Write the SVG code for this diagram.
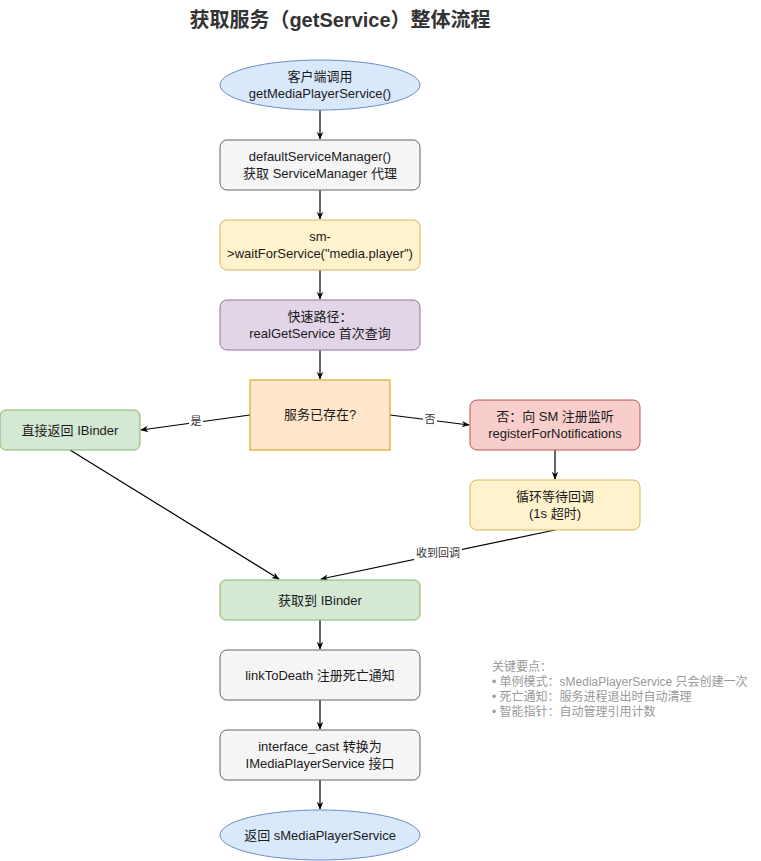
<svg xmlns="http://www.w3.org/2000/svg" width="761" height="861" viewBox="0 0 761 861">
<defs>
<marker id="arr" viewBox="0 0 10 10" refX="9" refY="5" markerWidth="8" markerHeight="8" orient="auto" markerUnits="userSpaceOnUse">
<path d="M0,1 L10,5 L0,9 L3,5 Z" fill="#000"/>
</marker>
<style>
text{font-family:"Liberation Sans","Noto Sans CJK SC",sans-serif;font-size:13px;fill:#1a1a1a;text-anchor:middle}
.title{font-size:20px;font-weight:bold;fill:#333}
.note{font-size:12px;fill:#999;text-anchor:start}
.lbl{font-size:11px;fill:#333}
.blue{fill:#dae8fc;stroke:#6c8ebf}
.gray{fill:#f5f5f5;stroke:#666}
.yel{fill:#fff2cc;stroke:#d6b656}
.pur{fill:#e1d5e7;stroke:#9673a6}
.org{fill:#ffe6cc;stroke:#d79b00}
.grn{fill:#d5e8d4;stroke:#82b366}
.red{fill:#f8cecc;stroke:#b85450}
.e{stroke:#000;stroke-width:1.2;fill:none;marker-end:url(#arr)}
.lb{fill:#fff}
</style>
</defs>
<rect width="761" height="861" fill="#fff"/>
<text class="title" x="340" y="27">获取服务（getService）整体流程</text>
<g id="edges">
<path class="e" d="M320,110 L320,139"/>
<path class="e" d="M320,190 L320,219"/>
<path class="e" d="M320,270 L320,299"/>
<path class="e" d="M320,350 L320,379"/>
<path class="e" d="M250,415 L141,430"/>
<path class="e" d="M390,415 L469,425"/>
<path class="e" d="M555,450 L555,479"/>
<path class="e" d="M70,450 L279,579"/>
<path class="e" d="M555,530 L321,579"/>
<path class="e" d="M320,620 L320,649"/>
<path class="e" d="M320,700 L320,729"/>
<path class="e" d="M320,780 L320,809"/>
<rect class="lb" x="189" y="414" width="14" height="14"/>
<text class="lbl" x="196" y="425">是</text>
<rect class="lb" x="423" y="412" width="14" height="14"/>
<text class="lbl" x="430" y="423">否</text>
<rect class="lb" x="414" y="546" width="48" height="14"/>
<text class="lbl" x="438" y="557">收到回调</text>
</g>
<g id="start"><ellipse class="blue" cx="320" cy="85" rx="100" ry="25"/><text x="320" y="81">客户端调用</text><text x="320" y="98">getMediaPlayerService()</text></g>
<g id="dsm"><rect class="gray" x="220" y="140" width="200" height="50" rx="7"/><text x="320" y="161">defaultServiceManager()</text><text x="320" y="178">获取 ServiceManager 代理</text></g>
<g id="wait"><rect class="yel" x="220" y="220" width="200" height="50" rx="7"/><text x="320" y="241">sm-</text><text x="320" y="258">&gt;waitForService("media.player")</text></g>
<g id="fast"><rect class="pur" x="220" y="300" width="200" height="50" rx="7"/><text x="320" y="321">快速路径：</text><text x="320" y="338">realGetService 首次查询</text></g>
<g id="exists"><rect class="org" x="250" y="380" width="140" height="70"/><text x="320" y="419">服务已存在?</text></g>
<g id="direct"><rect class="grn" x="0" y="410" width="140" height="40" rx="6"/><text x="70" y="435">直接返回 IBinder</text></g>
<g id="reg"><rect class="red" x="470" y="400" width="170" height="50" rx="7"/><text x="555" y="421">否：向 SM 注册监听</text><text x="555" y="438">registerForNotifications</text></g>
<g id="loop"><rect class="yel" x="470" y="480" width="170" height="50" rx="7"/><text x="555" y="501">循环等待回调</text><text x="555" y="518">(1s 超时)</text></g>
<g id="got"><rect class="grn" x="220" y="580" width="200" height="40" rx="6"/><text x="320" y="605">获取到 IBinder</text></g>
<g id="ltd"><rect class="gray" x="220" y="650" width="200" height="50" rx="7"/><text x="320" y="680">linkToDeath 注册死亡通知</text></g>
<g id="cast"><rect class="gray" x="220" y="730" width="200" height="50" rx="7"/><text x="320" y="751">interface_cast 转换为</text><text x="320" y="768">IMediaPlayerService 接口</text></g>
<g id="end"><ellipse class="blue" cx="320" cy="835" rx="100" ry="25"/><text x="320" y="840">返回 sMediaPlayerService</text></g>
<g id="notes">
<text class="note" x="492" y="671">关键要点：</text>
<text class="note" x="492" y="686">• 单例模式：sMediaPlayerService 只会创建一次</text>
<text class="note" x="492" y="701">• 死亡通知：服务进程退出时自动清理</text>
<text class="note" x="492" y="716">• 智能指针：自动管理引用计数</text>
</g>
</svg>
